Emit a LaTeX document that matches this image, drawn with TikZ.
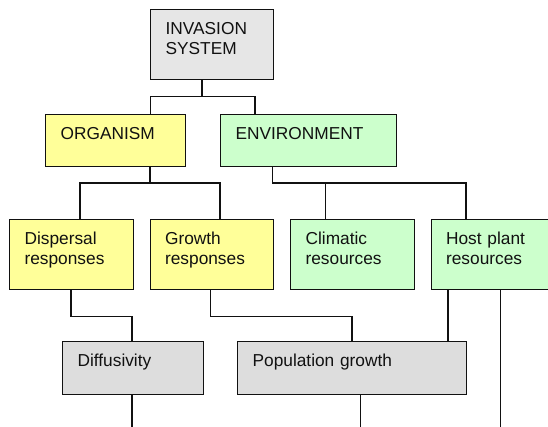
\documentclass[tikz,border=0pt]{standalone}
\usepackage{fontspec}
\setmainfont{Liberation Sans}
\begin{document}
\definecolor{boxgrey}{HTML}{E6E6E6}
\definecolor{rategrey}{HTML}{DDDDDD}
\definecolor{orgyellow}{HTML}{FFFF99}
\definecolor{envgreen}{HTML}{CCFFCC}
\definecolor{ink}{HTML}{111111}
\begin{tikzpicture}[x=1pt,y=-1pt,
  box/.style 2 args={draw=ink, line width=1.2pt, anchor=north west,
    inner xsep=15pt, inner ysep=0pt, align=left, text=ink,
    font=\fontsize{17.3}{20.6}\selectfont,
    text width=#1pt-30pt, text height=24.7pt, text depth=#2pt-24.7pt},
  link/.style={draw=ink, line width=1.2pt}]
\useasboundingbox (0,0) rectangle (548,427);
\clip (0,0) rectangle (548,427);

% top of the hierarchy
\node[box={123}{70}, fill=boxgrey] (inv) at (150,9) {INVASION\\SYSTEM};

% organism and environment
\node[box={140}{52}, fill=orgyellow] (org) at (45,114) {ORGANISM};
\node[box={176}{52}, fill=envgreen] (env) at (220,114) {ENVIRONMENT};

% responses and resources
\node[box={123.5}{70}, fill=orgyellow] (disp) at (9,219) {Dispersal\\responses};
\node[box={123}{70}, fill=orgyellow] (grow) at (149.5,219) {Growth\\responses};
\node[box={123.5}{70}, fill=envgreen] (clim) at (290,219) {Climatic\\resources};
\node[box={123.5}{70}, fill=envgreen] (host) at (430.5,219) {Host plant\\resources};

% rate parameters
\node[box={140.5}{53}, fill=rategrey] (diff) at (62,341) {Diffusivity};
\node[box={229}{53}, fill=rategrey] (pop) at (237,341) {Population growth};

% junction points of the tree
\coordinate (j1) at (202,96.7);
\coordinate (j2) at (150,183);
\coordinate (j3) at (272.7,183);
\coordinate (out1) at (132,427);
\coordinate (out2) at (360.7,427);
\coordinate (out3) at (500.8,427);

% invasion system branches
\draw[link] ([xshift=52pt]inv.south west) -- (j1);
\draw[link] ([xshift=105.7pt]org.north west) |- (j1) -| ([xshift=35pt]env.north west);

% organism branches
\draw[link] ([xshift=105pt]org.south west) -- (j2);
\draw[link] ([xshift=71pt]disp.north west) |- (j2) -| ([xshift=70.5pt]grow.north west);

% environment branches
\draw[link] ([xshift=52.7pt]env.south west) -- (j3) -| ([xshift=35.5pt]host.north west);
\draw[link] ([xshift=35.5pt]clim.north west) |- (j3);

% responses feeding the rates
\draw[link] ([xshift=62pt]disp.south west) -- ++(0,26) -| ([xshift=70pt]diff.north west);
\draw[link] ([xshift=61.2pt]grow.south west) -- ++(0,26) -| ([xshift=115pt]pop.north west);
\draw[link] ([xshift=17.5pt]host.south west) -- ([xshift=211pt]pop.north west);

% lines leaving the diagram
\draw[link] ([xshift=70pt]diff.south west) -- (out1);
\draw[link] ([xshift=123.7pt]pop.south west) -- (out2);
\draw[link] ([xshift=70.3pt]host.south west) -- (out3);
\end{tikzpicture}
\end{document}
